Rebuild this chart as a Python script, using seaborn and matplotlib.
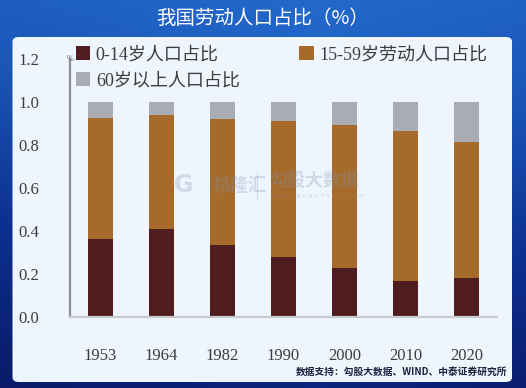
import numpy as np
import pandas as pd
import matplotlib
matplotlib.use("Agg")
import matplotlib.pyplot as plt
import seaborn as sns
from matplotlib.patches import FancyBboxPatch, Patch
from matplotlib.colors import LinearSegmentedColormap

# ---- data ----
years = ["1953", "1964", "1982", "1990", "2000", "2010", "2020"]
age_0_14 = [0.363, 0.407, 0.335, 0.277, 0.229, 0.166, 0.180]
age_15_59 = [0.563, 0.532, 0.586, 0.635, 0.664, 0.699, 0.632]
age_60_plus = [0.074, 0.061, 0.079, 0.088, 0.107, 0.135, 0.188]
series_names = ["0-14岁人口占比", "15-59岁劳动人口占比", "60岁以上人口占比"]
yticks = [0.0, 0.2, 0.4, 0.6, 0.8, 1.0, 1.2]
title = "我国劳动人口占比（%）"
source = "数据支持：勾股大数据、WIND、中泰证券研究所"

colors = ["#4F1D1F", "#A66B2A", "#A9ACB2"]

sns.set_theme(style="white")
plt.rcParams["font.family"] = ["Liberation Serif", "Noto Sans CJK SC", "DejaVu Sans"]
plt.rcParams["axes.unicode_minus"] = False

W, H = 526, 388
fig = plt.figure(figsize=(W / 100, H / 100), dpi=100)

# ---- background gradient ----
bg = fig.add_axes([0, 0, 1, 1], zorder=-10)
yy, xx = np.mgrid[0:1:200j, 0:1:260j]
val = 0.75 * yy + 0.25 * (1 - np.abs(xx - 0.6) * 1.2)
cmap = LinearSegmentedColormap.from_list("bg", ["#0a1a68", "#0d2f8f", "#1a56b8", "#2369cc"])
bg.imshow(val, cmap=cmap, aspect="auto", extent=[0, 1, 0, 1], origin="lower")
bg.set_axis_off()
panel = FancyBboxPatch((12.5 / W, 1 - 382 / H), (512 - 12.5) / W, (382 - 37) / H,
                       boxstyle="round,pad=0,rounding_size=0.012",
                       transform=bg.transAxes, facecolor="#EEF5FD", edgecolor="none")
bg.add_patch(panel)
bg.set_xlim(0, 1)
bg.set_ylim(0, 1)

fig.text(263 / W, 1 - 18 / H, title, ha="center", va="center", color="white",
         fontsize=14, family=["Noto Sans CJK SC"], fontweight="medium")
fig.text(507 / W, 1 - 372 / H, source, ha="right", va="center", color="#1b2340",
         fontsize=7, family=["Noto Sans CJK SC"], fontweight="bold")

# watermark (faint, over the bars)
wm = dict(color="#7f93b3", alpha=0.28, family=["Noto Sans CJK SC"], zorder=20)
fig.text(213 / W, 1 - 185 / H, "格隆汇", ha="left", va="center",
         fontsize=13, fontweight="bold", **wm)
fig.text(184 / W, 1 - 185 / H, "G", ha="center", va="center",
         fontsize=17, fontweight="bold", **{**wm, "family": ["DejaVu Sans"]})
fig.text(270 / W, 1 - 180 / H, "勾股大数据", ha="left", va="center",
         fontsize=13, fontweight="bold", **wm)
fig.text(271 / W, 1 - 196 / H, "w w w . g o g u d a t a . c o m", ha="left", va="center",
         fontsize=4.5, **{**wm, "family": ["DejaVu Sans"]})
fig.add_artist(plt.Line2D([257 / W, 257 / W], [1 - 172 / H, 1 - 200 / H],
                          color="#7f93b3", alpha=0.25, lw=0.8, zorder=20))

# ---- main axes ----
ax = fig.add_axes([70 / W, 1 - 317 / H, (497 - 70) / W, (317 - 59) / H])
ax.set_facecolor("none")

df = pd.DataFrame({
    "year": years,
    "a": age_0_14,
    "b": age_15_59,
    "c": age_60_plus,
})
df["b_bottom"] = df["a"]
df["c_bottom"] = df["a"] + df["b"]

sns.barplot(data=df, x="year", y="a", color=colors[0], width=0.4, ax=ax,
            saturation=1, linewidth=0)
sns.barplot(data=df, x="year", y="b", bottom=df["b_bottom"], color=colors[1],
            width=0.4, ax=ax, saturation=1, linewidth=0)
sns.barplot(data=df, x="year", y="c", bottom=df["c_bottom"], color=colors[2],
            width=0.4, ax=ax, saturation=1, linewidth=0)

ax.set_xlim(-0.5, 6.5)
ax.set_ylim(0, 1.2)
ax.set_yticks(yticks)
ax.set_yticklabels([f"{v:.1f}" for v in yticks])
ax.set_xlabel("")
ax.set_ylabel("")

for s in ["top", "right"]:
    ax.spines[s].set_visible(False)
ax.spines["left"].set_color("#8c8f94")
ax.spines["left"].set_linewidth(1.6)
ax.spines["bottom"].set_color("#c6c9ce")
ax.spines["bottom"].set_linewidth(1.6)

ax.tick_params(axis="y", direction="in", length=6, width=1.4, color="#8c8f94",
               pad=22, labelsize=12, labelcolor="#3c3c3c")
ax.tick_params(axis="x", which="major", length=0, pad=22, labelsize=12,
               labelcolor="#3c3c3c")
ax.set_xticks(np.arange(-0.5, 7.0, 1.0), minor=True)
ax.tick_params(axis="x", which="minor", direction="in", length=5, width=1.2,
               color="#c6c9ce")

ax.text(-0.5, 1.2, "%", ha="center", va="center", fontsize=6, color="#707070",
        clip_on=False)

handles = [Patch(facecolor=colors[0], edgecolor="none"),
           Patch(facecolor=colors[2], edgecolor="none"),
           Patch(facecolor=colors[1], edgecolor="none")]
labels = [series_names[0], series_names[2], series_names[1]]
fig.legend(handles, labels, loc="upper left", bbox_to_anchor=(76 / W, 1 - 46 / H),
           ncol=2, frameon=False, fontsize=13, handlelength=0.8, handleheight=0.8,
           handletextpad=0.3, columnspacing=3.3, labelspacing=0.5,
           labelcolor="#3c3c3c", borderaxespad=0, borderpad=0)

fig.savefig("out.png", dpi=100)
